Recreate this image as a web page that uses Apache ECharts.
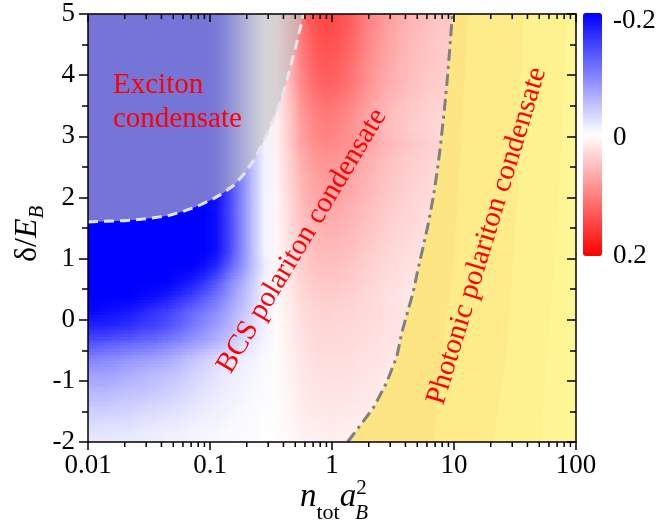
<!DOCTYPE html>
<html>
<head>
<meta charset="utf-8">
<script src="https://cdn.jsdelivr.net/npm/echarts@6/dist/echarts.min.js"></script>
<style>
html,body{margin:0;padding:0;background:#fff;}
#chart{width:659px;height:528px;}
</style>
</head>
<body>
<div id="chart"></div>
<script>
// ---------------- DATA ----------------
// cell edges of the colour map (x: n_tot a_B^2, log spaced; y: delta/E_B, top to bottom)
const xEdges = [0.01,0.0126,0.0158,0.02,0.0251,0.0316,0.0398,0.0501,0.0631,0.0794,
  0.1,0.126,0.158,0.2,0.251,0.316,0.398,0.501,0.631,0.794,
  1,1.26,1.58,2,2.51,3.16,3.98,5.01,6.31,7.94,
  10,12.6,15.8,20,25.1,31.6,39.8,50.1,63.1,79.4,100];
const yEdges = [5,4.75,4.5,4.25,4,3.75,3.5,3.25,3,2.75,2.5,2.25,2,1.75,1.5,1.25,1,0.75,0.5,0.25,0,-0.25,-0.5,-0.75,-1,-1.25,-1.5,-1.75,-2];
// colour-map values in units of 0.01, rows from top (delta=5) to bottom (delta=-2)
const zRows = [
 [-20,-20,-20,-20,-20,-20,-20,-20,-20,-20,-19,-15,-10,-5,-1,1.7,6.1,10.9,13.5,14.5,13.9,12.8,10.7,9.0,7.7,6.7,5.8,5.2,4.6,4.4,4.1,3.8,3.6,3.5,3.3,3.2,3.0,2.9,2.9,2.8],
 [-20,-20,-20,-20,-20,-20,-20,-20,-20,-20,-19,-15,-10,-5,-1,1.7,5.9,10.5,13.0,14.0,13.4,12.3,10.4,8.7,7.4,6.4,5.6,5.0,4.5,4.2,3.9,3.6,3.5,3.4,3.2,3.1,2.9,2.8,2.8,2.7],
 [-20,-20,-20,-20,-20,-20,-20,-20,-20,-20,-19,-15,-10,-5,-1,1.6,5.7,10.1,12.6,13.5,13.0,11.9,10.0,8.4,7.2,6.2,5.4,4.9,4.3,4.1,3.8,3.5,3.4,3.2,3.1,3.0,2.8,2.7,2.7,2.6],
 [-20,-20,-20,-20,-20,-20,-20,-20,-20,-20,-19,-15,-10,-5,-1,1.6,5.5,9.8,12.1,13.0,12.5,11.4,9.6,8.1,6.9,6.0,5.2,4.7,4.2,3.9,3.6,3.4,3.3,3.1,3.0,2.9,2.7,2.6,2.6,2.5],
 [-20,-20,-20,-20,-20,-20,-20,-20,-20,-20,-19,-15,-10,-5,-1,1.5,5.3,9.4,11.6,12.5,12.0,11.0,9.3,7.8,6.6,5.8,5.0,4.5,4.0,3.8,3.5,3.3,3.1,3.0,2.9,2.8,2.6,2.5,2.5,2.4],
 [-20,-20,-20,-20,-20,-20,-20,-20,-20,-20,-19,-15,-10,-5,-1,1.4,4.8,8.6,10.7,11.5,11.0,10.1,8.5,7.1,6.1,5.3,4.6,4.1,3.7,3.5,3.2,3.0,2.9,2.8,2.6,2.5,2.4,2.3,2.3,2.2],
 [-20,-20,-20,-20,-20,-20,-20,-20,-20,-20,-19,-15,-10,-5,-1,1.3,4.4,7.9,9.8,10.5,10.1,9.2,7.8,6.5,5.6,4.8,4.2,3.8,3.4,3.2,2.9,2.7,2.6,2.5,2.4,2.3,2.2,2.1,2.1,2.0],
 [-20,-20,-20,-20,-20,-20,-20,-20,-20,-20,-19,-15,-10,-5,-1,1.2,4.2,7.5,9.3,10.0,9.6,8.8,7.4,6.2,5.3,4.6,4.0,3.6,3.2,3.0,2.8,2.6,2.5,2.4,2.3,2.2,2.1,2.0,2.0,1.9],
 [-20,-20,-20,-20,-20,-20,-20,-20,-20,-20,-19,-15,-10,-5,-1,1.1,4.0,7.1,8.8,9.5,9.2,8.6,7.6,6.7,5.7,5.0,4.5,4.0,3.6,3.3,3.1,2.9,2.9,2.8,2.7,2.6,2.5,2.4,2.3,2.2],
 [-20,-20,-20,-20,-20,-20,-20,-20,-20,-20,-19,-15,-10,-5,-1,1.0,3.6,6.4,7.9,8.5,8.2,7.7,6.8,6.0,5.1,4.5,4.0,3.6,3.2,3.0,2.8,2.6,2.6,2.5,2.4,2.3,2.2,2.1,2.0,2.0],
 [-20,-20,-20,-20,-20,-20,-20,-20,-20,-20,-19,-15,-10,-5,-1,1.0,3.4,6.0,7.4,8.0,7.8,7.2,6.4,5.6,4.8,4.2,3.8,3.4,3.0,2.8,2.6,2.5,2.4,2.3,2.2,2.2,2.1,2.0,1.9,1.8],
 [-20,-20,-20,-20,-20,-20,-20,-20,-20,-20,-19,-15,-10,-5,-1,0.9,3.2,5.6,7.0,7.5,7.3,6.8,6.0,5.3,4.5,4.0,3.5,3.2,2.9,2.6,2.5,2.3,2.3,2.2,2.1,2.0,2.0,1.9,1.8,1.7],
 [-20,-20,-20,-20,-20,-20,-20,-20,-20,-20,-19,-15,-10,-5,-1,0.8,2.9,5.3,6.5,7.0,6.8,6.3,5.6,4.9,4.2,3.7,3.3,2.9,2.7,2.5,2.3,2.2,2.1,2.0,2.0,1.9,1.8,1.8,1.7,1.6],
 [-20,-20,-20,-20,-20,-20,-20,-20,-20,-20,-19,-15,-10,-5,-1,0.8,2.7,4.9,6.0,6.5,6.3,5.9,5.2,4.6,3.9,3.4,3.1,2.7,2.5,2.3,2.1,2.0,2.0,1.9,1.8,1.8,1.7,1.6,1.6,1.5],
 [-20,-20,-20,-20,-20,-20,-20,-20,-20,-20,-19,-15,-10,-5,-1,0.7,2.5,4.5,5.6,6.0,5.8,5.4,4.8,4.2,3.6,3.2,2.8,2.5,2.3,2.1,2.0,1.9,1.8,1.7,1.7,1.6,1.6,1.5,1.4,1.4],
 [-20,-20,-20,-20,-20,-20,-20,-20,-20,-20,-19,-15,-10,-5,-1,0.7,2.3,4.1,5.1,5.5,5.3,5.0,4.4,3.9,3.3,2.9,2.6,2.3,2.1,1.9,1.8,1.7,1.7,1.6,1.5,1.5,1.4,1.4,1.3,1.3],
 [-20,-20,-20,-20,-20,-20,-20,-20,-20,-19,-17,-13,-9,-5,-1.5,0.6,2.1,3.8,4.7,5.0,4.9,4.5,4.0,3.5,3.0,2.7,2.4,2.1,1.9,1.8,1.7,1.6,1.5,1.5,1.4,1.4,1.3,1.3,1.2,1.2],
 [-20,-20,-20,-20,-20,-20,-20,-19,-18,-16,-13.5,-10,-7,-4,-1,0.5,1.9,3.4,4.2,4.5,4.4,4.1,3.6,3.2,2.7,2.4,2.1,1.9,1.7,1.6,1.5,1.4,1.4,1.3,1.3,1.2,1.2,1.1,1.1,1.0],
 [-20,-20,-20,-20,-19.5,-19,-18,-16.5,-15,-13,-11,-8.5,-6,-3.5,-1,0.5,1.7,3.0,3.7,4.0,3.9,3.6,3.2,2.8,2.4,2.1,1.9,1.7,1.5,1.4,1.3,1.2,1.2,1.2,1.1,1.1,1.0,1.0,1.0,0.9],
 [-19.5,-19,-18.5,-18,-17,-16,-15,-13.5,-12,-10.5,-9,-7,-5,-3,-1,0.4,1.5,2.6,3.3,3.5,3.4,3.3,3.0,2.8,2.6,2.3,2.2,2.0,1.9,1.8,1.6,1.5,1.5,1.4,1.3,1.3,1.2,1.2,1.1,1.1],
 [-17,-17,-16.5,-16,-15,-14.5,-13.5,-12,-10.5,-9,-7.5,-6,-4,-2.5,-1,0.4,1.3,2.4,3.0,3.2,3.1,3.0,2.8,2.6,2.3,2.1,2.0,1.9,1.7,1.6,1.5,1.4,1.3,1.3,1.2,1.2,1.1,1.1,1.0,1.0],
 [-13.5,-13,-12.5,-12,-11.5,-11,-10,-9,-8,-7,-6,-4.5,-3,-2,-0.8,0.4,1.3,2.3,2.8,3.0,2.9,2.8,2.6,2.4,2.2,2.0,1.9,1.7,1.6,1.5,1.4,1.3,1.3,1.2,1.1,1.1,1.0,1.0,1.0,0.9],
 [-10,-9.5,-9,-8.5,-8,-7.5,-7,-6,-5,-4,-3,-2.2,-1.5,-1,-0.5,0.3,1.1,2.0,2.5,2.7,2.6,2.5,2.3,2.2,2.0,1.8,1.7,1.6,1.5,1.4,1.3,1.2,1.1,1.1,1.0,1.0,0.9,0.9,0.9,0.8],
 [-7.5,-7.5,-7,-6.5,-6,-5.5,-5,-4.5,-3.5,-3,-2.2,-1.5,-1.2,-0.8,-0.4,0.3,1.0,1.9,2.3,2.5,2.5,2.4,2.2,2.0,1.8,1.7,1.6,1.5,1.4,1.3,1.2,1.1,1.1,1.0,1.0,0.9,0.9,0.8,0.8,0.8],
 [-6,-6,-5.5,-5,-5,-4.5,-4,-3.5,-3,-2.3,-1.8,-1.3,-1,-0.6,-0.3,0.3,0.9,1.7,2.0,2.2,2.2,2.1,1.9,1.8,1.6,1.5,1.4,1.3,1.2,1.1,1.0,1.0,0.9,0.9,0.8,0.8,0.8,0.7,0.7,0.7],
 [-4.5,-4.5,-4,-4,-3.5,-3.3,-3,-2.6,-2.2,-1.8,-1.4,-1,-0.7,-0.5,-0.2,0.2,0.8,1.5,1.9,2.0,2.0,1.9,1.7,1.6,1.5,1.3,1.2,1.2,1.1,1.0,0.9,0.9,0.8,0.8,0.8,0.7,0.7,0.7,0.6,0.6],
 [-3.2,-3,-3,-2.8,-2.5,-2.3,-2,-1.8,-1.5,-1.2,-1,-0.7,-0.5,-0.3,-0.1,0.2,0.7,1.3,1.6,1.7,1.7,1.6,1.5,1.4,1.2,1.1,1.1,1.0,0.9,0.9,0.8,0.7,0.7,0.7,0.6,0.6,0.6,0.6,0.5,0.5],
 [-2,-2,-1.8,-1.7,-1.5,-1.4,-1.2,-1.1,-0.9,-0.7,-0.6,-0.4,-0.3,-0.2,0,0.2,0.5,1.0,1.2,1.3,1.3,1.2,1.1,1.0,1.0,0.9,0.8,0.8,0.7,0.7,0.6,0.6,0.5,0.5,0.5,0.5,0.4,0.4,0.4,0.4]
];
// exciton-condensate boundary (dashed)
const excitonX = [0.01,0.02,0.03,0.045,0.06,0.08,0.107,0.13,0.157,0.19,0.229,0.26,0.295,0.335,0.38,0.42,0.457,0.505,0.552,0.585];
const excitonY = [1.60,1.62,1.65,1.70,1.77,1.86,1.98,2.08,2.20,2.38,2.61,2.82,3.05,3.30,3.59,3.87,4.14,4.47,4.79,5.0];
// photonic-condensate boundary (dash-dot)
const photonX = [1.34,1.75,2.2,2.8,3.4,3.75,4.2,4.65,5.1,5.6,6.2,6.75,7.25,7.75,8.3,8.8,9.25,9.7];
const photonY = [-2.0,-1.7,-1.43,-1.03,-0.6,-0.2,0.15,0.47,0.85,1.2,1.6,2.0,2.4,2.85,3.4,3.92,4.45,5.0];
// inner shading contours of the photonic region
const bandBX = [6.8,8,10,11.5,13];   const bandBY = [-2,-0.5,1,3,5];
const bandCX = [21,27,33,37];        const bandCY = [-2,-0.5,2,5];
const bandDX = [51,70,85];           const bandDY = [-2,1.5,5];
// ticks
const xTickLabels = ['0.01','0.1','1','10','100'];
const yTickLabels = ['-2','-1','0','1','2','3','4','5'];
const xMinorTicks = [0.02,0.03,0.04,0.05,0.06,0.07,0.08,0.09,0.2,0.3,0.4,0.5,0.6,0.7,0.8,0.9,2,3,4,5,6,7,8,9,20,30,40,50,60,70,80,90];
const cbTickValues = [-0.2, 0, 0.2];
const cbTickLabels = ['-0.2','0','0.2'];

// ---------------- BUILD ----------------
const FAM = 'Liberation Serif';
const NC = xEdges.length - 1, NR = yEdges.length - 1;
const cells = [];
zRows.forEach((row, r) => row.forEach((v, c) => cells.push([xEdges[c], yEdges[r], v / 100, c, r])));

const mctx = document.createElement('canvas').getContext('2d');
function tw(t, font) { mctx.font = font; return mctx.measureText(t).width; }
function mid(baseline, size) { return baseline - 0.3375 * size; }

function polyFromCurve(api, xs, ys, extra) {
  const pts = xs.map((x, i) => api.coord([x, ys[i]]));
  extra.forEach(p => pts.push(api.coord(p)));
  return pts;
}

const chart = echarts.init(document.getElementById('chart'), null, {renderer: 'canvas'});

const axisCommon = {
  axisLine: {onZero: false, lineStyle: {color: '#000', width: 1.5}},
  splitLine: {show: false}
};

// axis-name pieces
const mainF = 33, subF = 22;
const fN = 'italic ' + mainF + 'px ' + FAM;
const fSub = 'normal ' + subF + 'px ' + FAM;
const fSubI = 'italic ' + (subF - 1) + 'px ' + FAM;
const fSup = 'normal ' + (subF - 1) + 'px ' + FAM;
const xl0 = 300;
const xl1 = xl0 + tw('n', fN);
const xl2 = xl1 + tw('tot', fSub);
const xl3 = xl2 + tw('a', fN);

const yF = 32;
const fYd = 'normal ' + yF + 'px ' + FAM;
const fYE = 'italic ' + yF + 'px ' + FAM;
const fYB = 'italic 21px ' + FAM;
const yw1 = tw('δ/', fYd);
const yw2 = yw1 + tw('E', fYE);

function txt(text, x, y, font, extra) {
  return Object.assign({type: 'text', x: x, y: y, z: 100,
    style: {text: text, font: font, fill: '#000', align: 'left', verticalAlign: 'middle',
            textAlign: 'left', textVerticalAlign: 'middle'}}, extra || {});
}
function redTxt(text, x, y, rot, align) {
  return {type: 'text', x: x, y: y, rotation: rot, z: 100,
    style: {text: text, font: 'normal 29px ' + FAM, fill: '#ff0000',
            align: align, verticalAlign: 'middle', textAlign: align, textVerticalAlign: 'middle'}};
}

const graphics = [
  txt('n', xl0, mid(508, mainF), fN),
  txt('tot', xl1, mid(521, subF), fSub),
  txt('a', xl2, mid(508, mainF), fN),
  txt('2', xl3, mid(496, subF - 1), fSup),
  txt('B', xl3 - 1, mid(521, subF - 1), fSubI),
  {type: 'group', x: 38, y: 262, rotation: Math.PI / 2, children: [
    txt('δ/', 0, mid(0, yF), fYd),
    txt('E', yw1, mid(0, yF), fYE),
    txt('B', yw2, mid(7, 21), fYB)
  ]},
  redTxt('Exciton', 113, mid(95, 29), 0, 'left'),
  redTxt('condensate', 113, mid(129, 29), 0, 'left'),
  redTxt('BCS polariton condensate', 302, 241, 59 * Math.PI / 180, 'center'),
  redTxt('Photonic polariton condensate', 487, 236, 73 * Math.PI / 180, 'center')
];
const cbTop = 13, cbH = 243;
const cbNudge = [8, 3, 0];
cbTickValues.forEach((v, i) => {
  const y = cbTop + (v - cbTickValues[0]) / (cbTickValues[2] - cbTickValues[0]) * cbH + cbNudge[i];
  graphics.push(txt(cbTickLabels[i], 613, y, 'normal 27px ' + FAM));
});

// colour map: each sample is shaded towards its right / lower neighbours
function renderCell(params, api) {
  const c = api.value(3), r = api.value(4);
  const cR = Math.min(c + 1, NC - 1), rD = Math.min(r + 1, NR - 1);
  const colA = api.visual('color', r * NC + c);
  const colB = api.visual('color', r * NC + cR);
  const colC = api.visual('color', rD * NC + c);
  const colD = api.visual('color', rD * NC + cR);
  const e0 = api.coord([xEdges[c], yEdges[r]]);
  const e1 = api.coord([xEdges[c + 1], yEdges[r + 1]]);
  const cx0 = (e0[0] + e1[0]) / 2, cy0 = (e0[1] + e1[1]) / 2;
  let cx1 = e1[0], cy1 = e1[1];
  if (c < NC - 1) { cx1 = (e1[0] + api.coord([xEdges[c + 2], yEdges[r]])[0]) / 2; }
  if (r < NR - 1) { cy1 = (e1[1] + api.coord([xEdges[c], yEdges[r + 2]])[1]) / 2; }
  const xL = c === 0 ? e0[0] : cx0;
  const xR = cx1;
  const gx2 = c < NC - 1 ? cx1 : cx0 + 1;
  const grad = (a, b) => ({type: 'linear', x: cx0, y: 0, x2: gx2, y2: 0, global: true,
    colorStops: [{offset: 0, color: a}, {offset: 1, color: b}]});
  const gTop = grad(colA, colB), gBot = grad(colC, colD);
  const children = [];
  const w = xR - xL + 0.7;
  if (r === 0) {
    children.push({type: 'rect', shape: {x: xL, y: e0[1], width: w, height: cy0 - e0[1] + 0.7}, style: {fill: gTop}});
  }
  if (r < NR - 1) {
    const N = 5, h = (cy1 - cy0) / N;
    for (let k = 0; k < N; k++) {
      const y = cy0 + k * h, t = (k + 0.5) / N;
      children.push({type: 'rect', shape: {x: xL, y: y, width: w, height: h + 0.7}, style: {fill: gTop}});
      children.push({type: 'rect', shape: {x: xL, y: y, width: w, height: h + 0.7}, style: {fill: gBot, opacity: t}});
    }
  } else {
    children.push({type: 'rect', shape: {x: xL, y: cy0, width: w, height: cy1 - cy0}, style: {fill: gTop}});
  }
  return {type: 'group', children: children};
}

const option = {
  animation: false,
  backgroundColor: '#ffffff',
  grid: {left: 88, top: 14, width: 488, height: 428, show: false},
  visualMap: {
    type: 'continuous', seriesIndex: 0, dimension: 2,
    min: -0.2, max: 0.2, inverse: true, calculable: false,
    orient: 'vertical', left: 583, top: cbTop, padding: 0,
    itemWidth: 19, itemHeight: cbH,
    text: null, showLabel: false, hoverLink: false,
    inRange: {color: ['#0000ff', '#ffffff', '#ff0000']}
  },
  xAxis: [
    Object.assign({}, axisCommon, {
      type: 'log', logBase: 10, min: 0.01, max: 100, position: 'bottom', z: 10,
      axisTick: {inside: false, length: 8, lineStyle: {color: '#000', width: 1.5}},
      axisLabel: {fontFamily: FAM, fontSize: 27, color: '#000', margin: 10,
                  showMinLabel: true, showMaxLabel: true,
                  formatter: (v, i) => xTickLabels[i]}
    }),
    Object.assign({}, axisCommon, {
      type: 'log', logBase: 10, min: 0.01, max: 100, position: 'top', z: 10,
      axisTick: {inside: true, length: 8, lineStyle: {color: '#000', width: 1.5}},
      axisLabel: {show: false}
    })
  ],
  yAxis: [
    Object.assign({}, axisCommon, {
      type: 'value', min: -2, max: 5, interval: 1, position: 'left', z: 10,
      axisTick: {inside: false, length: 9, lineStyle: {color: '#000', width: 1.5}},
      minorTick: {show: true, splitNumber: 2, length: 6, lineStyle: {color: '#000', width: 1.5}},
      minorSplitLine: {show: false},
      axisLabel: {fontFamily: FAM, fontSize: 27, color: '#000', margin: 13,
                  formatter: (v, i) => yTickLabels[i]}
    }),
    Object.assign({}, axisCommon, {
      type: 'value', min: -2, max: 5, interval: 1, position: 'right', z: 10,
      axisTick: {inside: true, length: 9, lineStyle: {color: '#000', width: 1.5}},
      minorTick: {show: true, splitNumber: 2, length: 6, lineStyle: {color: '#000', width: 1.5}},
      minorSplitLine: {show: false},
      axisLabel: {show: false}
    })
  ],
  series: [
    {
      type: 'custom', name: 'map', z: 1, silent: true, clip: true,
      dimensions: ['x', 'y', 'v', 'c', 'r'],
      encode: {x: 0, y: 1},
      data: cells,
      renderItem: renderCell
    },
    {
      type: 'custom', z: 2, silent: true, clip: true,
      data: [[0.01, 5]], encode: {x: 0, y: 1},
      renderItem: function (params, api) {
        return {type: 'polygon',
          shape: {points: polyFromCurve(api, excitonX, excitonY, [[0.01, 5]])},
          style: {fill: 'rgba(191,191,191,0.61)'}};
      }
    },
    {
      type: 'custom', z: 3, silent: true, clip: true,
      data: [[100, 5]], encode: {x: 0, y: 1},
      renderItem: function (params, api) {
        const corners = [[100, 5], [100, -2]];
        return {type: 'group', children: [
          {type: 'polygon', shape: {points: polyFromCurve(api, photonX, photonY, corners)}, style: {fill: '#fde583'}},
          {type: 'polygon', shape: {points: polyFromCurve(api, bandBX, bandBY, corners)}, style: {fill: '#feeb89'}},
          {type: 'polygon', shape: {points: polyFromCurve(api, bandCX, bandCY, corners)}, style: {fill: '#fef18f'}},
          {type: 'polygon', shape: {points: polyFromCurve(api, bandDX, bandDY, corners)}, style: {fill: '#fff594'}}
        ]};
      }
    },
    {
      type: 'line', z: 4, silent: true, symbol: 'none',
      data: excitonX.map((x, i) => [x, excitonY[i]]),
      lineStyle: {color: '#e4e4f0', width: 3, type: [10, 6]}
    },
    {
      type: 'line', z: 4, silent: true, symbol: 'none',
      data: photonX.map((x, i) => [x, photonY[i]]),
      lineStyle: {color: '#808080', width: 3, type: [12, 5, 3, 5]}
    },
    {
      type: 'custom', z: 11, silent: true, clip: false,
      data: xMinorTicks.map(v => [v, -2]), encode: {x: 0, y: 1},
      renderItem: function (params, api) {
        const pb = api.coord([api.value(0), -2]);
        const pt = api.coord([api.value(0), 5]);
        return {type: 'group', children: [
          {type: 'line', shape: {x1: pb[0], y1: pb[1], x2: pb[0], y2: pb[1] + 5}, style: {stroke: '#000', lineWidth: 1.5}},
          {type: 'line', shape: {x1: pt[0], y1: pt[1], x2: pt[0], y2: pt[1] + 5}, style: {stroke: '#000', lineWidth: 1.5}}
        ]};
      }
    }
  ],
  graphic: graphics
};
chart.setOption(option);
</script>
</body>
</html>
